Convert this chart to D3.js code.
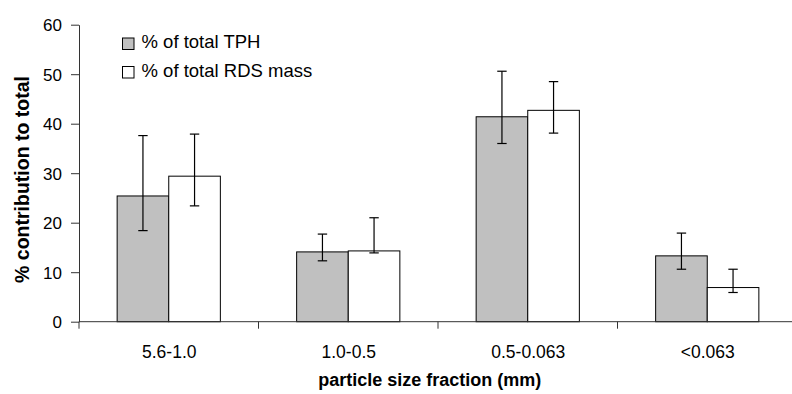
<!DOCTYPE html>
<html><head><meta charset="utf-8">
<script src="https://cdn.jsdelivr.net/npm/d3@7"></script>
<style>body{margin:0;background:#fff}svg{display:block}text{font-family:"Liberation Sans",Arial,sans-serif;fill:#000}</style>
</head><body><svg id="c" width="792" height="394"></svg>
<script>
const categories = ["5.6-1.0","1.0-0.5","0.5-0.063","<0.063"];
const seriesNames = ["% of total TPH","% of total RDS mass"];
const tphValues = [25.4,14.1,41.4,13.3];
const tphLow = [18.4,12.3,36.0,10.6];
const tphHigh = [37.6,17.7,50.6,17.9];
const rdsValues = [29.4,14.3,42.7,6.9];
const rdsLow = [23.4,13.9,38.1,5.9];
const rdsHigh = [37.9,21.0,48.5,10.6];
const yTicks = [0,10,20,30,40,50,60];
const colors = ["#c0c0c0","#ffffff"];

const svg = d3.select("#c");
const mLeft = 79, mRight = 797, mTop = 24.7, mBottom = 321.7;
const x = d3.scaleBand().domain(categories).range([mLeft,mRight]).paddingInner(0).paddingOuter(0);
const y = d3.scaleLinear().domain([0,60]).range([mBottom,mTop]);
const sub = d3.scaleBand().domain([0,1]).range([0,x.bandwidth()*0.575]).padding(0);
const offset = (x.bandwidth() - sub.range()[1]) / 2;

const series = [
  {vals: tphValues, lo: tphLow, hi: tphHigh},
  {vals: rdsValues, lo: rdsLow, hi: rdsHigh}
];

// y axis
const yAxis = d3.axisLeft(y).tickValues(yTicks).tickSize(8).tickPadding(9).tickSizeOuter(0);
const gy = svg.append("g").attr("transform",`translate(${mLeft},0)`).call(yAxis);
gy.select(".domain").attr("stroke","#333");
gy.selectAll(".tick line").attr("stroke","#333");
gy.selectAll(".tick text").style("font-size","17px").attr("dy","0.36em");

// bars
series.forEach((s,i)=>{
  const g = svg.append("g");
  g.selectAll("rect").data(categories).join("rect")
    .attr("x", (d)=> x(d)+offset+sub(i))
    .attr("y", (d,j)=> y(s.vals[j]))
    .attr("width", sub.bandwidth())
    .attr("height", (d,j)=> y(0)-y(s.vals[j]))
    .attr("fill", colors[i]).attr("stroke","#000").attr("stroke-width",1);
});
// error bars
series.forEach((s,i)=>{
  const g = svg.append("g").attr("stroke","#000").attr("stroke-width",1.2);
  categories.forEach((c,j)=>{
    const cx = x(c)+offset+sub(i)+sub.bandwidth()/2;
    g.append("line").attr("x1",cx).attr("x2",cx).attr("y1",y(s.lo[j])).attr("y2",y(s.hi[j]));
    g.append("line").attr("x1",cx-4.7).attr("x2",cx+4.7).attr("y1",y(s.lo[j])).attr("y2",y(s.lo[j]));
    g.append("line").attr("x1",cx-4.7).attr("x2",cx+4.7).attr("y1",y(s.hi[j])).attr("y2",y(s.hi[j]));
  });
});

// x axis
const gx = svg.append("g").attr("transform",`translate(0,${mBottom})`);
gx.append("line").attr("x1",mLeft).attr("x2",mRight).attr("stroke","#333");
const bounds = categories.map(c=>x(c)).concat([mRight]);
gx.selectAll("line.tk").data(bounds).join("line").attr("class","tk")
  .attr("x1",d=>d).attr("x2",d=>d).attr("y1",0).attr("y2",7).attr("stroke","#333");
gx.selectAll("text").data(categories).join("text")
  .attr("x",d=>x(d)+x.bandwidth()/2+0.5).attr("y",36.5)
  .attr("text-anchor","middle").style("font-size","17.5px").text(d=>d);

// titles
svg.append("text").attr("x",429.8).attr("y",385.5).attr("text-anchor","middle")
  .style("font-size","18px").style("font-weight","bold").text("particle size fraction (mm)");
svg.append("text").attr("transform","translate(28.5,179.5) rotate(-90)").attr("text-anchor","middle")
  .style("font-size","19.5px").style("font-weight","bold").text("% contribution to total");

// legend
const leg = svg.append("g");
seriesNames.forEach((n,i)=>{
  const ly = 38 + i*28.5;
  leg.append("rect").attr("x",122.5).attr("y",ly).attr("width",11.5).attr("height",11.5)
    .attr("fill",colors[i]).attr("stroke","#000").attr("stroke-width",1);
  leg.append("text").attr("x",141.5).attr("y",ly+10).style("font-size","18.5px").text(n);
});
</script></body></html>
